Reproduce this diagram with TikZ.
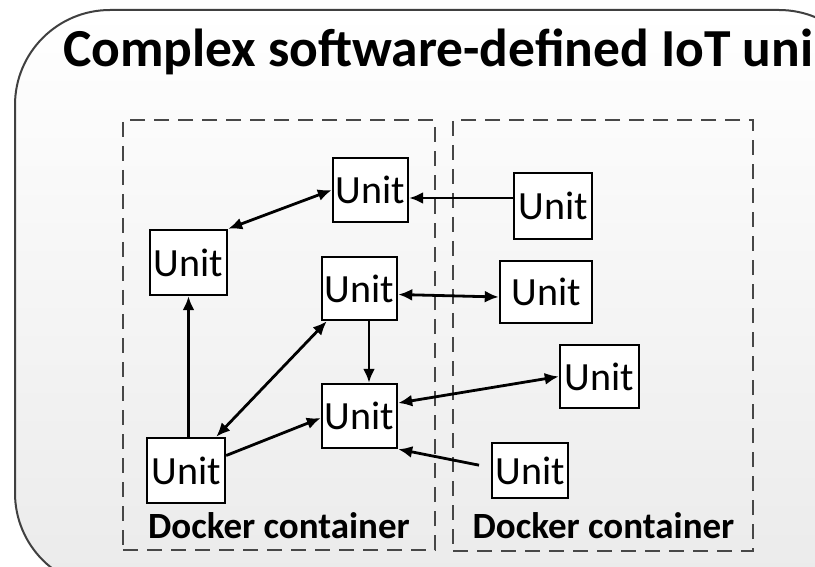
\documentclass[tikz,border=0pt]{standalone}
\usepackage{fontspec}
\setmainfont{Carlito}
\usetikzlibrary{arrows.meta}
\begin{document}
\begin{tikzpicture}[x=1pt,y=-1pt,
  >={Latex[length=14pt,width=12pt]},
  unitbox/.style={draw=black, line width=2.4pt, fill=white, inner sep=0pt,
    font=\fontsize{40}{42}\selectfont},
  conn/.style={line width=2.8pt, draw=black},
  container/.style={draw=black!72, line width=2.3pt, dash pattern=on 15pt off 9pt, inner sep=0pt},
  dlabel/.style={anchor=base, inner sep=0pt, font=\bfseries\fontsize{37}{40}\selectfont},
]
\useasboundingbox (0,0) rectangle (815,567);
\clip (0,0) rectangle (815,567);
% outer rounded frame
\draw[draw=black!75, line width=2pt, rounded corners=95pt, top color=white, bottom color=black!8]
  (15,10) rectangle (874,588);
% title
\node[anchor=base west, inner sep=0pt, font=\bfseries\fontsize{53.5}{60}\selectfont] (title) at (63,67)
  {Complex software-defined IoT uni};
% docker containers
\node[container, minimum width=312pt, minimum height=430pt] (dc1) at (279,335) {};
\node[container, minimum width=300pt, minimum height=431pt] (dc2) at (603,335.5) {};
\node[dlabel] (lab1) at (279,538) {Docker container};
\node[dlabel] (lab2) at (603.5,538) {Docker container};
% units
\node[unitbox, minimum width=75pt, minimum height=64pt] (uTop) at (370.5,190) {Unit};
\node[unitbox, minimum width=77pt, minimum height=65pt] (uLeft) at (188.5,262.5) {Unit};
\node[unitbox, minimum width=75pt, minimum height=63pt] (uMid) at (359.5,288.5) {Unit};
\node[unitbox, minimum width=75pt, minimum height=64pt] (uCB) at (359.5,416) {Unit};
\node[unitbox, minimum width=78pt, minimum height=65pt] (uBL) at (186,470.5) {Unit};
\node[unitbox, minimum width=78pt, minimum height=66pt] (uR1) at (553,206) {Unit};
\node[unitbox, minimum width=92pt, minimum height=62pt] (uR2) at (546,292) {Unit};
\node[unitbox, minimum width=79pt, minimum height=63pt] (uR3) at (599.5,376.5) {Unit};
\node[unitbox, minimum width=76pt, minimum height=55pt] (uR4) at (530,470.5) {Unit};
% connectors
\draw[conn,<->] (uLeft.north east) -- (uTop.west);
\draw[conn,->] ([yshift=8pt]uR1.west) -- ([yshift=-8pt]uTop.east);
\draw[conn,<->] ([yshift=-6pt]uMid.east) -- ([yshift=-5pt]uR2.west);
\draw[conn,->] ([xshift=9.5pt]uMid.south) -- ([xshift=9.5pt]uCB.north);
\draw[conn,<->] ([xshift=-10pt]uBL.north east) -- ([xshift=6pt]uMid.south west);
\draw[conn,->] ([yshift=15pt]uBL.east) -- ([yshift=-2pt]uCB.west);
\draw[conn,->] (uLeft.south |- uBL.north) -- (uLeft.south);
\draw[conn,<->] ([yshift=13pt]uCB.east) -- (uR3.west);
\draw[conn,->,shorten <=12pt] ([yshift=3pt]uR4.west) -- (uCB.south east);
\end{tikzpicture}
\end{document}
